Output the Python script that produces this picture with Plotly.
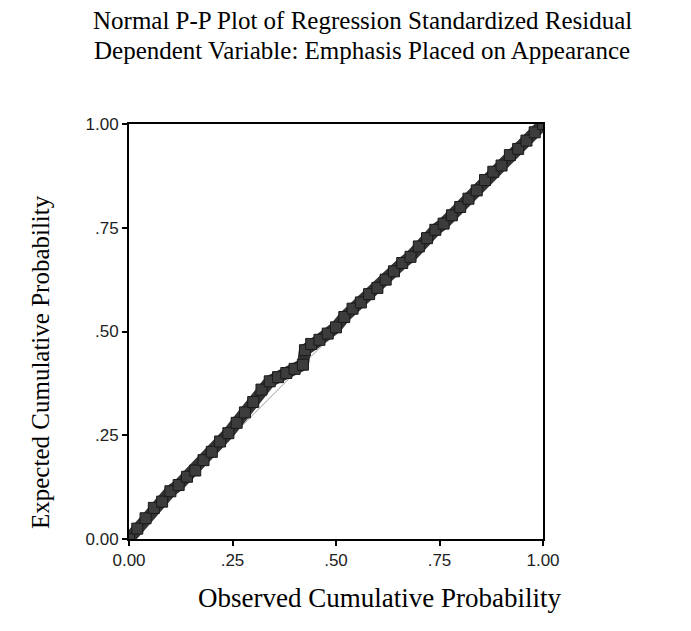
import plotly.graph_objects as go

observed = [0.00, 0.02, 0.04, 0.06, 0.08, 0.10, 0.12, 0.14, 0.16, 0.18, 0.20, 0.22, 0.24, 0.26,
            0.28, 0.30, 0.32, 0.34, 0.36, 0.38, 0.40, 0.42, 0.425, 0.44, 0.46, 0.48, 0.50, 0.52,
            0.54, 0.56, 0.58, 0.60, 0.62, 0.64, 0.66, 0.68, 0.70, 0.72, 0.74, 0.76, 0.78, 0.80,
            0.82, 0.84, 0.86, 0.88, 0.90, 0.92, 0.94, 0.96, 0.98, 1.00]
expected = [0.00, 0.025, 0.05, 0.075, 0.09, 0.115, 0.13, 0.15, 0.165, 0.19, 0.21, 0.235, 0.255, 0.28,
            0.305, 0.33, 0.36, 0.38, 0.39, 0.40, 0.41, 0.42, 0.455, 0.47, 0.48, 0.495, 0.51, 0.535,
            0.555, 0.57, 0.59, 0.605, 0.625, 0.645, 0.665, 0.68, 0.705, 0.725, 0.745, 0.76, 0.78, 0.80,
            0.82, 0.84, 0.865, 0.885, 0.90, 0.925, 0.94, 0.96, 0.98, 1.00]
ref_line = [0.0, 1.0]

tick_vals = [0, 0.25, 0.5, 0.75, 1.0]
tick_text = ["0.00", ".25", ".50", ".75", "1.00"]

title_lines = ["Normal P-P Plot of Regression Standardized Residual",
               "Dependent Variable: Emphasis Placed on Appearance"]
x_title = "Observed Cumulative Probability"
y_title = "Expected Cumulative Probability"

fig = go.Figure()
fig.add_trace(go.Scatter(x=ref_line, y=ref_line, mode="lines",
                         line=dict(color="#9a9a9a", width=1), showlegend=False))
fig.add_trace(go.Scatter(x=observed, y=expected, mode="lines+markers",
                         line=dict(color="#333333", width=12),
                         marker=dict(symbol="square", size=11, color="#3c3c3c",
                                     line=dict(color="#1a1a1a", width=1)),
                         showlegend=False))

W, H = 691, 631
L, R, T, B = 129, 543, 124, 539

axis_common = dict(range=[0, 1], tickvals=tick_vals, ticktext=tick_text,
                   showgrid=False, zeroline=False, showline=True, linecolor="black",
                   linewidth=2, mirror=True, ticks="outside", ticklen=5, tickwidth=2,
                   tickcolor="black",
                   tickfont=dict(family="Liberation Sans", size=17, color="#222222"))

fig.update_layout(
    width=W, height=H,
    margin=dict(l=L, r=W - R, t=T, b=H - B),
    paper_bgcolor="white", plot_bgcolor="white",
    xaxis=axis_common,
    yaxis=dict(axis_common),
)

def px_x(px):
    return (px - L) / (R - L)

def px_y(py):
    return (B - py) / (B - T)

title_font = dict(family="Liberation Serif", size=25, color="black")
axis_title_font = dict(family="Liberation Serif", size=27, color="black")
y_title_font = dict(family="Liberation Serif", size=25, color="black")

fig.add_annotation(text=title_lines[0], x=px_x(362), y=px_y(20), xref="paper", yref="paper",
                   xanchor="center", yanchor="middle", showarrow=False, font=title_font)
fig.add_annotation(text=title_lines[1], x=px_x(362), y=px_y(50), xref="paper", yref="paper",
                   xanchor="center", yanchor="middle", showarrow=False, font=title_font)
fig.add_annotation(text=x_title, x=px_x(379), y=px_y(598), xref="paper", yref="paper",
                   xanchor="center", yanchor="middle", showarrow=False, font=axis_title_font)
fig.add_annotation(text=y_title, x=px_x(40), y=px_y(362), xref="paper", yref="paper",
                   xanchor="center", yanchor="middle", showarrow=False, font=y_title_font,
                   textangle=-90)

fig.write_html("out.html")
